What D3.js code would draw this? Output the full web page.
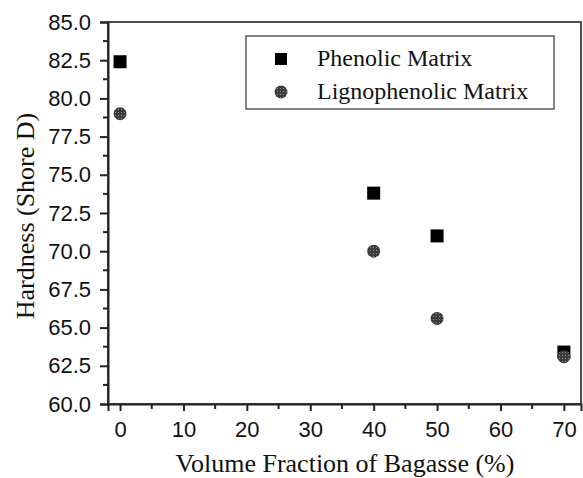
<!DOCTYPE html>
<html>
<head>
<meta charset="utf-8">
<script src="https://cdn.jsdelivr.net/npm/d3@7"></script>
<style>
  body { margin: 0; background: #fff; }
  svg { display: block; }
</style>
</head>
<body>
<div id="chart"></div>
<script>
// Hardness vs. bagasse volume fraction

const fractions = [0, 40, 50, 70];
const phenolic = [82.4, 73.8, 71.0, 63.4];
const lignophenolic = [79.0, 70.0, 65.6, 63.1];
const seriesNames = ['Phenolic Matrix', 'Lignophenolic Matrix'];
const yTicks = [60, 62.5, 65, 67.5, 70, 72.5, 75, 77.5, 80, 82.5, 85];
const xTicks = [0, 10, 20, 30, 40, 50, 60, 70];

const width = 583;
const height = 478;
const margin = {top: 22, right: 2, bottom: 74, left: 108};
const sans = "'Liberation Sans', Arial, sans-serif";
const serif = "'Liberation Serif', 'Times New Roman', serif";

const svg = d3.select('#chart')
  .append('svg')
  .attr('width', width)
  .attr('height', height);

const x = d3.scaleLinear().domain([-1.9, 72.7]).range([margin.left, width - margin.right]);
const y = d3.scaleLinear().domain([60, 85]).range([height - margin.bottom, margin.top]);

// dotted fill for the circle markers
const defs = svg.append('defs');
const pat = defs.append('pattern')
  .attr('id', 'dots')
  .attr('width', 3).attr('height', 3)
  .attr('patternUnits', 'userSpaceOnUse');
pat.append('rect').attr('width', 3).attr('height', 3).attr('fill', '#3c3c3c');
pat.append('rect').attr('x', 1).attr('y', 1).attr('width', 1).attr('height', 1).attr('fill', '#8a8a8a');

// frame
svg.append('rect')
  .attr('x', margin.left)
  .attr('y', margin.top)
  .attr('width', width - margin.right - margin.left)
  .attr('height', height - margin.bottom - margin.top)
  .attr('fill', 'none')
  .attr('stroke', '#222')
  .attr('stroke-width', 1.6);

// y axis
const yAxis = svg.append('g')
  .attr('transform', `translate(${margin.left},0)`)
  .call(d3.axisLeft(y).tickValues(yTicks).tickFormat(d3.format('.1f')).tickSize(8).tickPadding(9));
yAxis.select('.domain').attr('stroke-width', 2).attr('stroke', '#222');
yAxis.selectAll('.tick line').attr('stroke-width', 2).attr('stroke', '#222');
yAxis.selectAll('text')
  .attr('font-family', sans)
  .attr('font-size', 22)
  .attr('fill', '#111');

// y minor ticks
svg.append('g')
  .selectAll('line')
  .data(d3.range(61.25, 85, 2.5))
  .enter().append('line')
  .attr('x1', margin.left - 5).attr('x2', margin.left)
  .attr('y1', d => y(d)).attr('y2', d => y(d))
  .attr('stroke', '#222').attr('stroke-width', 2);

// x axis
const xAxis = svg.append('g')
  .attr('transform', `translate(0,${height - margin.bottom})`)
  .call(d3.axisBottom(x).tickValues(xTicks).tickFormat(d3.format('d')).tickSize(7).tickPadding(10));
xAxis.select('.domain').attr('stroke-width', 2).attr('stroke', '#222');
xAxis.selectAll('.tick line').attr('stroke-width', 2).attr('stroke', '#222');
xAxis.selectAll('text')
  .attr('font-family', sans)
  .attr('font-size', 22)
  .attr('fill', '#111');

// x minor ticks
svg.append('g')
  .selectAll('line')
  .data(d3.range(5, 75, 10))
  .enter().append('line')
  .attr('x1', d => x(d)).attr('x2', d => x(d))
  .attr('y1', height - margin.bottom).attr('y2', height - margin.bottom + 5)
  .attr('stroke', '#222').attr('stroke-width', 2);

// axis titles
svg.append('text')
  .attr('x', 345)
  .attr('y', 472)
  .attr('text-anchor', 'middle')
  .attr('font-family', serif)
  .attr('font-size', 26)
  .attr('fill', '#111')
  .text('Volume Fraction of Bagasse (%)');

svg.append('text')
  .attr('transform', `translate(34,216) rotate(-90)`)
  .attr('text-anchor', 'middle')
  .attr('font-family', serif)
  .attr('font-size', 26)
  .attr('fill', '#111')
  .text('Hardness (Shore D)');

// markers
const sq = 13;
svg.append('g')
  .selectAll('rect')
  .data(fractions.map((f, i) => [f, phenolic[i]]))
  .enter().append('rect')
  .attr('x', d => x(d[0]) - sq / 2)
  .attr('y', d => y(d[1]) - sq / 2)
  .attr('width', sq).attr('height', sq)
  .attr('fill', '#000');

svg.append('g')
  .selectAll('circle')
  .data(fractions.map((f, i) => [f, lignophenolic[i]]))
  .enter().append('circle')
  .attr('cx', d => x(d[0]))
  .attr('cy', d => y(d[1]))
  .attr('r', 6.5)
  .attr('fill', 'url(#dots)');

// legend
const legend = svg.append('g');
legend.append('rect')
  .attr('x', 246).attr('y', 36)
  .attr('width', 308).attr('height', 73)
  .attr('fill', '#fff')
  .attr('stroke', '#333')
  .attr('stroke-width', 1.2);
legend.append('rect')
  .attr('x', 281 - 6).attr('y', 59 - 6)
  .attr('width', 12).attr('height', 12)
  .attr('fill', '#000');
legend.append('circle')
  .attr('cx', 281).attr('cy', 92)
  .attr('r', 6.5)
  .attr('fill', 'url(#dots)');
legend.selectAll('text.lab')
  .data(seriesNames)
  .enter().append('text')
  .attr('class', 'lab')
  .attr('x', 317)
  .attr('y', (d, i) => 66 + i * 33)
  .attr('font-family', serif)
  .attr('font-size', 24)
  .attr('fill', '#111')
  .text(d => d);
</script>
</body>
</html>
